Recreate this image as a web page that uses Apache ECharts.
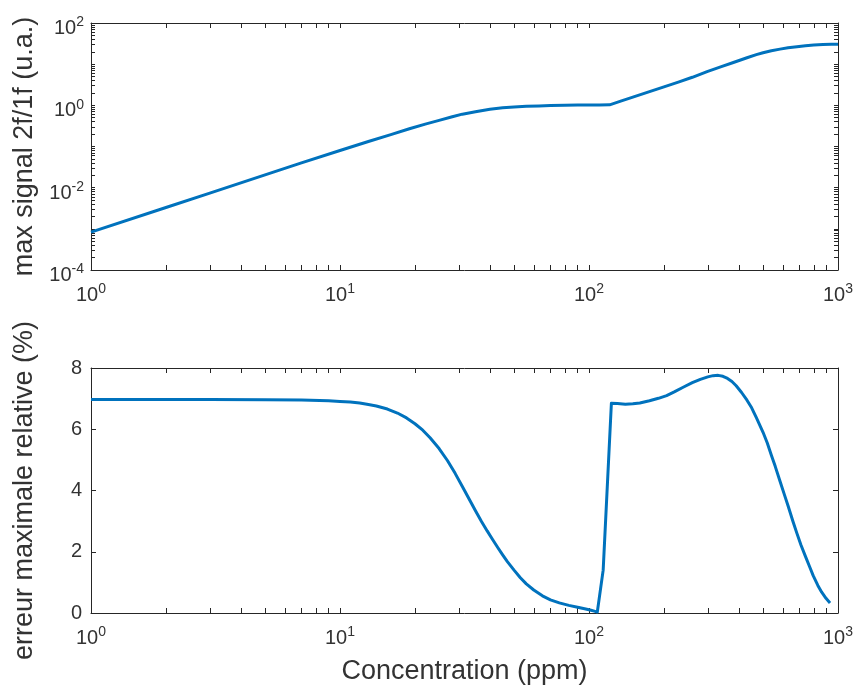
<!DOCTYPE html>
<html>
<head>
<meta charset="utf-8">
<script src="https://cdn.jsdelivr.net/npm/echarts@6/dist/echarts.min.js"></script>
<style>
html,body{margin:0;padding:0;background:#fff;}
#chart{width:857px;height:687px;}
</style>
</head>
<body>
<div id="chart"></div>
<script>
// ---- data ----
var topX = [1, 2, 3, 5, 7, 10, 13, 16, 19, 22, 25, 28, 31, 35, 40, 45, 50, 56, 63, 70, 80, 90, 100, 110, 121, 135, 150, 175, 200, 230, 260, 298, 340, 380, 431, 470, 500, 540, 585, 630, 684, 740, 800, 870, 940, 1000];
var topY = [8.3e-4, 3.3e-3, 7.4e-3, 0.0205, 0.040, 0.080, 0.132, 0.195, 0.27, 0.35, 0.43, 0.52, 0.61, 0.70, 0.80, 0.87, 0.91, 0.945, 0.97, 0.99, 1.005, 1.012, 1.018, 1.023, 1.03, 1.28, 1.58, 2.15, 2.8, 3.7, 4.8, 6.6, 8.7, 11.0, 14.3, 17.0, 19.0, 21.2, 23.2, 25.0, 26.6, 28.0, 29.1, 29.9, 30.3, 30.5];

var botX = [1, 3, 5, 7, 9, 10, 11, 12, 13, 14, 15.5, 17, 18.5, 20, 21.5, 23, 25, 27, 29, 31, 33, 35, 37, 39, 41, 43, 45, 47, 50, 53, 56, 60, 65, 70, 76, 83, 90, 96, 101, 105, 108, 114, 123, 130, 140, 150, 160, 175, 190, 205, 220, 240, 260, 280, 300, 315, 330, 345, 360, 375, 390, 410, 431, 450, 470, 500, 520, 540, 560, 585, 610, 630, 660, 684, 710, 740, 770, 795, 830, 860, 895, 929];
var botY = [6.97, 6.97, 6.965, 6.955, 6.93, 6.91, 6.89, 6.86, 6.81, 6.76, 6.66, 6.53, 6.37, 6.18, 5.97, 5.72, 5.37, 4.98, 4.56, 4.13, 3.72, 3.34, 2.99, 2.68, 2.4, 2.14, 1.9, 1.68, 1.4, 1.15, 0.95, 0.75, 0.56, 0.43, 0.33, 0.25, 0.19, 0.14, 0.1, 0.06, 0.03, 1.4, 6.85, 6.84, 6.82, 6.83, 6.86, 6.93, 7.01, 7.1, 7.22, 7.38, 7.52, 7.63, 7.71, 7.75, 7.76, 7.73, 7.66, 7.56, 7.42, 7.2, 6.95, 6.7, 6.38, 5.9, 5.55, 5.15, 4.78, 4.3, 3.85, 3.5, 2.98, 2.6, 2.22, 1.85, 1.5, 1.22, 0.9, 0.68, 0.48, 0.33];

var xMajor = [1, 10, 100, 1000];
var xMinor = [1,2,3,4,5,6,7,8,9,10,20,30,40,50,60,70,80,90,100,200,300,400,500,600,700,800,900,1000];
var yTopLabels = [1e-4, 1e-2, 1, 100];
var yTopTicks = [];
[-4,-3,-2,-1,0,1].forEach(function(e){ for (var m=1;m<=9;m++){ yTopTicks.push(Number((m*Math.pow(10,e)).toPrecision(3))); } });
yTopTicks.push(100);

var xName = 'Concentration (ppm)';
var yTopName = 'max signal 2f/1f (u.a.)';
var yBotName = 'erreur maximale relative (%)';

// ---- styling ----
var AX = '#262626';
var TXT = '#333333';
var FONT = '"Liberation Sans", Arial, Helvetica, sans-serif';
var LINE = '#0072BD';

function supFmt(v){
  var e = Math.round(Math.log(v)/Math.LN10);
  return '{b|10}{s|' + e + '}';
}
var rich = {
  b: {fontSize: 20, fontFamily: FONT, color: TXT, verticalAlign: 'bottom', lineHeight: 22},
  s: {fontSize: 14, fontFamily: FONT, color: TXT, verticalAlign: 'bottom', padding: [0,0,9,0], lineHeight: 22}
};

function logX(grid, pos, labels){
  return {
    type: 'log', logBase: 10, gridIndex: grid, position: pos, min: 1, max: 1000,
    axisLine: {show: true, onZero: false, lineStyle: {color: AX, width: 1}},
    axisTick: {show: true, inside: true, length: 5, lineStyle: {color: AX}, customValues: xMinor},
    axisLabel: {show: labels, customValues: xMajor, formatter: supFmt, rich: rich, margin: 13, color: TXT},
    splitLine: {show: false}, minorTick: {show: false},
    name: (labels && grid === 1) ? xName : '',
    nameLocation: 'middle', nameGap: 45,
    nameTextStyle: {fontSize: 27, fontFamily: FONT, color: TXT}
  };
}
function logY(pos, labels){
  return {
    type: 'log', logBase: 10, gridIndex: 0, position: pos, min: 1e-4, max: 100,
    axisLine: {show: true, onZero: false, lineStyle: {color: AX, width: 1}},
    axisTick: {show: true, inside: true, length: 4, lineStyle: {color: AX}, customValues: yTopTicks},
    axisLabel: {show: labels, customValues: yTopLabels, formatter: supFmt, rich: rich, margin: 7, color: TXT, padding: [9,0,0,0]},
    splitLine: {show: false},
    name: labels ? yTopName : '', nameLocation: 'middle', nameGap: 53,
    nameTextStyle: {fontSize: 27, fontFamily: FONT, color: TXT}
  };
}
function linY(pos, labels){
  return {
    type: 'value', gridIndex: 1, position: pos, min: 0, max: 8, interval: 2,
    axisLine: {show: true, onZero: false, lineStyle: {color: AX, width: 1}},
    axisTick: {show: true, inside: true, length: 5, lineStyle: {color: AX}},
    axisLabel: {show: labels, fontSize: 20, fontFamily: FONT, color: TXT, margin: 9},
    splitLine: {show: false},
    name: labels ? yBotName : '', nameLocation: 'middle', nameGap: 53,
    nameTextStyle: {fontSize: 27, fontFamily: FONT, color: TXT}
  };
}

function pairs(xs, ys){ return xs.map(function(x,i){ return [x, ys[i]]; }); }

var chart = echarts.init(document.getElementById('chart'), null, {renderer: 'canvas'});
chart.setOption({
  backgroundColor: '#fff',
  animation: false,
  grid: [
    {left: 91, right: 19, top: 23, height: 247, containLabel: false},
    {left: 91, right: 19, top: 368, height: 245, containLabel: false}
  ],
  xAxis: [logX(0,'bottom',true), logX(0,'top',false), logX(1,'bottom',true), logX(1,'top',false)],
  yAxis: [logY('left',true), logY('right',false), linY('left',true), linY('right',false)],
  series: [
    {type: 'line', xAxisIndex: 0, yAxisIndex: 0, data: pairs(topX, topY), showSymbol: false, smooth: false,
     lineStyle: {color: LINE, width: 3, join: 'round'}, clip: true},
    {type: 'line', xAxisIndex: 2, yAxisIndex: 2, data: pairs(botX, botY), showSymbol: false, smooth: false,
     lineStyle: {color: LINE, width: 3, join: 'round'}, clip: true}
  ]
});
</script>
</body>
</html>
